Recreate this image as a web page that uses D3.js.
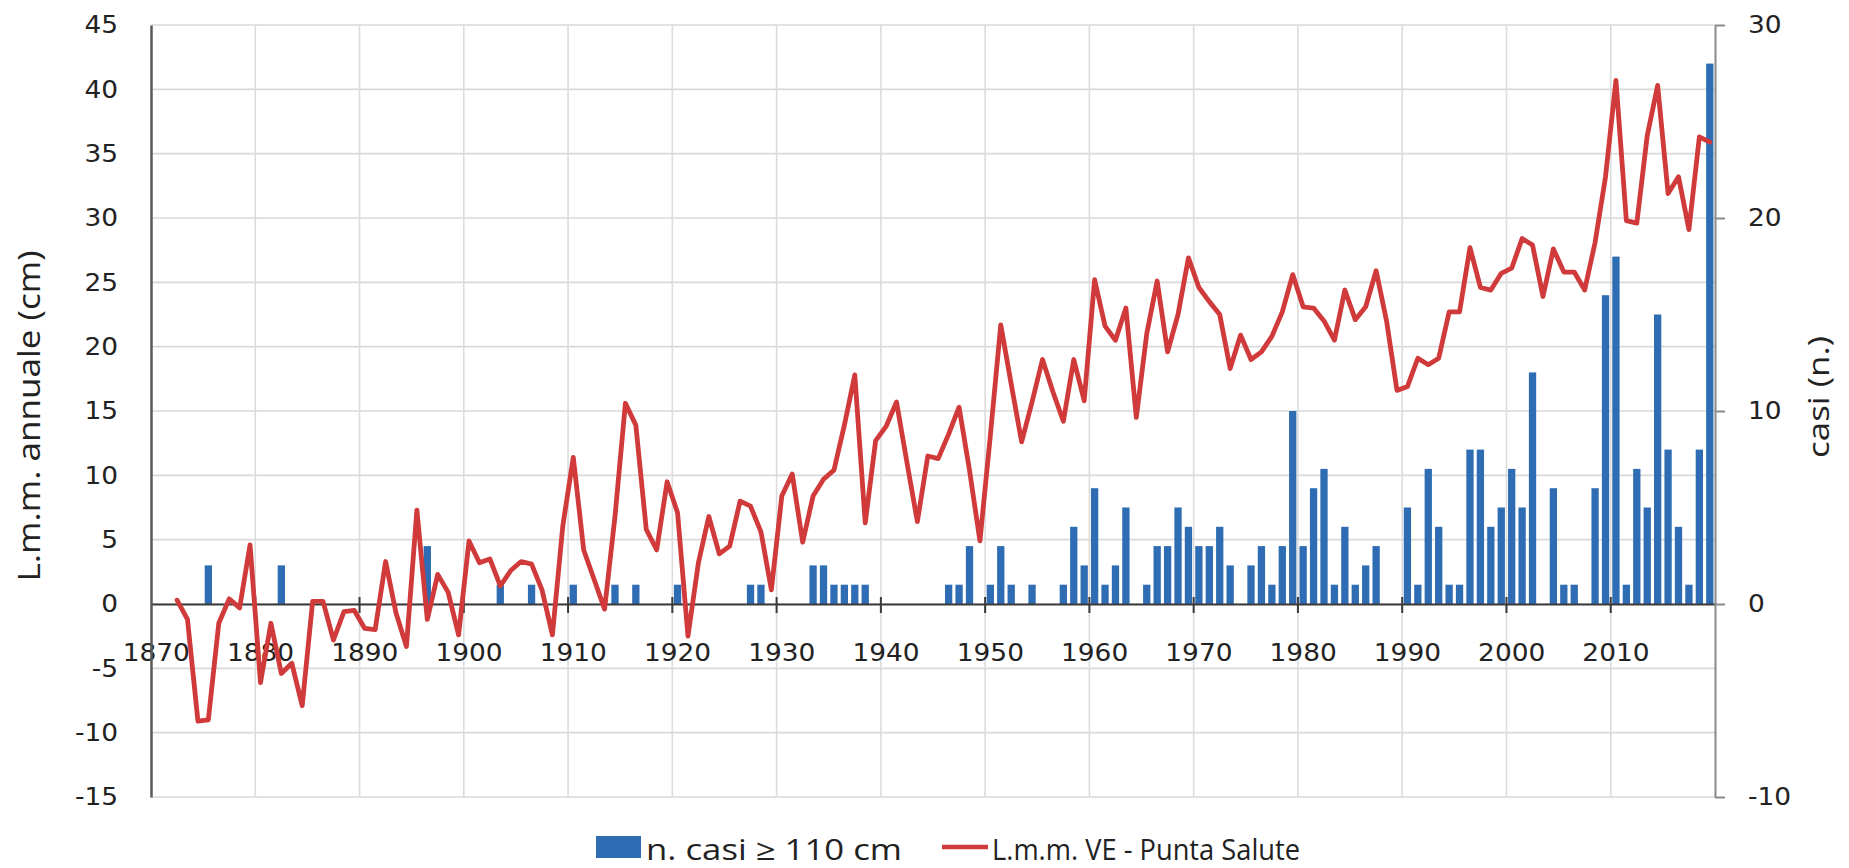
<!DOCTYPE html>
<html><head><meta charset="utf-8">
<script src="https://cdn.jsdelivr.net/npm/d3@7"></script>
<style>html,body{margin:0;padding:0;background:#fff;} svg{display:block;}</style>
</head><body>
<svg id="chart" width="1849" height="868"></svg>
<script>
// ---------- DATA ----------
const categories = d3.range(1870, 2020);          // category axis: years 1870..2019
const lineYears = d3.range(1872, 2020);           // years with mean sea level values
const lmm = [
  0.3, -1.2, -9.1, -9.0, -1.5, 0.4, -0.3, 4.6,                       // 1872-1879
  -6.1, -1.5, -5.4, -4.6, -7.9, 0.2, 0.2, -2.8, -0.6, -0.5,          // 1880s
  -1.9, -2.0, 3.3, -0.7, -3.3, 7.3, -1.2, 2.3, 0.9, -2.4,            // 1890s
  4.9, 3.2, 3.5, 1.4, 2.6, 3.3, 3.1, 1.1, -2.4, 6.1,                 // 1900s
  11.4, 4.2, 1.9, -0.4, 6.8, 15.6, 13.9, 5.8, 4.2, 9.5,              // 1910s
  7.1, -2.5, 3.2, 6.8, 3.9, 4.5, 8.0, 7.6, 5.6, 1.1,                 // 1920s
  8.4, 10.1, 4.8, 8.4, 9.7, 10.4, 13.9, 17.8, 6.3, 12.7,             // 1930s
  13.8, 15.7, 11.0, 6.4, 11.5, 11.3, 13.2, 15.3, 10.4, 4.9,          // 1940s
  13.1, 21.7, 17.1, 12.6, 15.7, 19.0, 16.5, 14.2, 19.0, 15.8,        // 1950s
  25.2, 21.6, 20.5, 23.0, 14.5, 21.0, 25.1, 19.6, 22.5, 26.9,        // 1960s
  24.6, 23.5, 22.5, 18.3, 20.9, 19.0, 19.6, 20.8, 22.7, 25.6,        // 1970s
  23.1, 23.0, 22.0, 20.5, 24.4, 22.1, 23.1, 25.9, 22.0, 16.6,        // 1980s
  16.9, 19.1, 18.6, 19.1, 22.7, 22.7, 27.7, 24.6, 24.4, 25.7,        // 1990s
  26.1, 28.4, 27.9, 23.9, 27.6, 25.8, 25.8, 24.4, 28.1, 33.2,        // 2000s
  40.7, 29.8, 29.6, 36.4, 40.3, 31.9, 33.2, 29.1, 36.3, 35.9         // 2010s
];
const caseYears = [1875,1882,1896,1903,1906,1910,1914,1916,1920,1927,1928,1933,1934,1935,1936,1937,1938,
  1946,1947,1948,1950,1951,1952,1954,1957,1958,1959,1960,1961,1962,1963,1965,1966,1967,1968,1969,
  1970,1971,1972,1973,1975,1976,1977,1978,1979,1980,1981,1982,1983,1984,1985,1986,1987,
  1990,1991,1992,1993,1994,1995,1996,1997,1998,1999,2000,2001,2002,2004,2005,2006,2008,2009,
  2010,2011,2012,2013,2014,2015,2016,2017,2018,2019];
const caseCounts = [2,2,3,1,1,1,1,1,1,1,1,2,2,1,1,1,1,
  1,1,3,1,3,1,1,1,4,2,6,1,2,5,1,3,3,5,4,
  3,3,4,2,2,3,1,3,10,3,6,7,1,4,1,2,3,
  5,1,7,4,1,1,8,8,4,5,7,5,12,6,1,1,6,16,
  18,1,7,5,15,8,4,1,8,28];
const xTickYears = [1870,1880,1890,1900,1910,1920,1930,1940,1950,1960,1970,1980,1990,2000,2010];
const leftTicks = [-15,-10,-5,0,5,10,15,20,25,30,35,40,45];
const rightTicks = [-10,0,10,20,30];
const seriesNames = ["n. casi \u2265 110 cm", "L.m.m. VE - Punta Salute"];
const leftTitle = "L.m.m. annuale (cm)";
const rightTitle = "casi (n.)";

// ---------- LAYOUT ----------
const plotL = 151, plotR = 1715, plotT = 25, plotB = 797;
const blue = "#2E6DB4", red = "#D03A3A";
const svg = d3.select("#chart");

const x = d3.scaleBand().domain(categories).range([plotL, plotR]).paddingInner(0.3).paddingOuter(0.15);
const yL = d3.scaleLinear().domain([-15, 45]).range([plotB, plotT]);
const yR = d3.scaleLinear().domain([-10, 30]).range([plotB, plotT]);
const bw = x.bandwidth();
const boundary = yr => x(yr) + bw / 2 - x.step() / 2;
const fmt = d => String(d);   // plain hyphen-minus like the original

// gridlines
const grid = svg.append("g");
grid.selectAll("line.h").data(leftTicks).join("line")
  .attr("x1", plotL).attr("x2", plotR)
  .attr("y1", d => yL(d)).attr("y2", d => yL(d))
  .attr("stroke", "#d9d9d9").attr("stroke-width", 1.6);
grid.selectAll("line.v").data(xTickYears.slice(1)).join("line")
  .attr("x1", d => boundary(d)).attr("x2", d => boundary(d))
  .attr("y1", plotT).attr("y2", plotB)
  .attr("stroke", "#dcdcdc").attr("stroke-width", 1.6);

// bars
const barData = caseYears.map((yr, i) => ({ yr, v: caseCounts[i] }));
svg.append("g").selectAll("rect").data(barData).join("rect")
  .attr("x", d => x(d.yr)).attr("width", bw)
  .attr("y", d => yR(d.v)).attr("height", d => yR(0) - yR(d.v))
  .attr("fill", blue);

// bottom axis (at zero)
const fontNum = "'DejaVu Sans', Verdana, sans-serif";
const xAxis = svg.append("g").attr("transform", `translate(0,${yL(0)})`)
  .call(d3.axisBottom(x).tickValues(xTickYears).tickFormat(fmt).tickSize(0).tickSizeOuter(0).tickPadding(40));
xAxis.select(".domain").attr("stroke", "#3a3a3a").attr("stroke-width", 2);
xAxis.selectAll("text").attr("font-family", fontNum).attr("font-size", 24).attr("fill", "#222")
  .attr("transform", "scale(1.1,1)");
// cross tick marks at decade boundaries
svg.append("g").selectAll("line").data(xTickYears.slice(1)).join("line")
  .attr("x1", d => boundary(d)).attr("x2", d => boundary(d))
  .attr("y1", yL(0) - 7).attr("y2", yL(0) + 9)
  .attr("stroke", "#3a3a3a").attr("stroke-width", 2);

// left axis
const lAxis = svg.append("g").attr("transform", `translate(${plotL},0)`)
  .call(d3.axisLeft(yL).tickValues(leftTicks).tickFormat(fmt).tickSize(0).tickSizeOuter(0).tickPadding(30));
lAxis.select(".domain").attr("stroke", "#595959").attr("stroke-width", 2.5);
lAxis.selectAll("text").attr("font-family", fontNum).attr("font-size", 24).attr("fill", "#222")
  .attr("transform", "scale(1.1,1)");

// right axis
const rAxis = svg.append("g").attr("transform", `translate(${plotR},0)`)
  .call(d3.axisRight(yR).tickValues(rightTicks).tickFormat(fmt).tickSize(10).tickSizeOuter(0).tickPadding(20));
rAxis.select(".domain").attr("stroke", "#8a8a8a").attr("stroke-width", 2);
rAxis.selectAll("line").attr("stroke", "#8a8a8a").attr("stroke-width", 2);
rAxis.selectAll("text").attr("font-family", fontNum).attr("font-size", 24).attr("fill", "#222")
  .attr("transform", "scale(1.1,1)");

// line
const lineData = lineYears.map((yr, i) => ({ yr, v: lmm[i] }));
svg.append("path").datum(lineData)
  .attr("fill", "none").attr("stroke", red).attr("stroke-width", 4.8)
  .attr("stroke-linejoin", "round").attr("stroke-linecap", "round")
  .attr("d", d3.line().x(d => x(d.yr) + bw / 2).y(d => yL(d.v)));

// axis titles
const fontTxt = "'Liberation Sans Narrow', 'Open Sans', sans-serif";
svg.append("text").attr("transform", "translate(28,416) rotate(-90)")
  .attr("text-anchor", "middle").attr("dominant-baseline", "central")
  .attr("font-family", fontTxt).attr("font-size", 31).attr("fill", "#222")
  .attr("textLength", 331).attr("lengthAdjust", "spacingAndGlyphs").text(leftTitle);
svg.append("text").attr("transform", "translate(1817,397) rotate(-90)")
  .attr("text-anchor", "middle").attr("dominant-baseline", "central")
  .attr("font-family", fontTxt).attr("font-size", 29).attr("fill", "#222")
  .attr("textLength", 122).attr("lengthAdjust", "spacingAndGlyphs").text(rightTitle);

// legend
const lg = svg.append("g");
lg.append("rect").attr("x", 596).attr("y", 836).attr("width", 45).attr("height", 22).attr("fill", blue);
lg.append("text").attr("x", 646).attr("y", 848).attr("dominant-baseline", "central")
  .attr("font-family", fontTxt).attr("font-size", 29).attr("fill", "#222")
  .attr("textLength", 256).attr("lengthAdjust", "spacingAndGlyphs").text(seriesNames[0]);
lg.append("line").attr("x1", 942).attr("x2", 988).attr("y1", 847).attr("y2", 847)
  .attr("stroke", red).attr("stroke-width", 4.5);
lg.append("text").attr("x", 992).attr("y", 848).attr("dominant-baseline", "central")
  .attr("font-family", fontTxt).attr("font-size", 29).attr("fill", "#222")
  .attr("textLength", 308).attr("lengthAdjust", "spacingAndGlyphs").text(seriesNames[1]);
</script>
</body></html>
